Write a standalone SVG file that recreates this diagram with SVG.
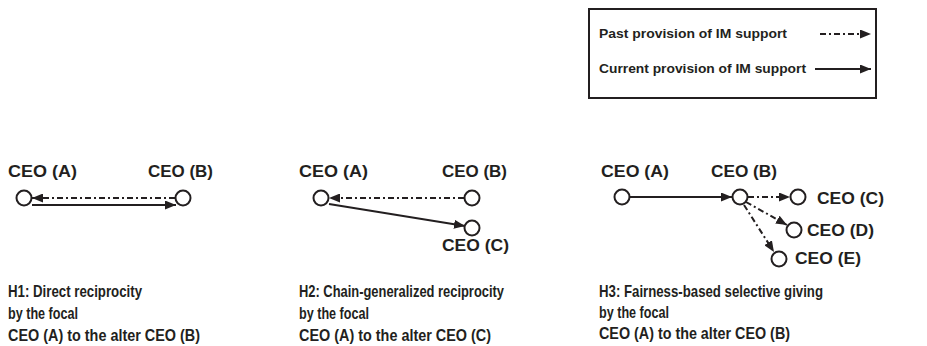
<svg xmlns="http://www.w3.org/2000/svg" width="927" height="346" viewBox="0 0 927 346">
<style>
.lbl{font-family:"Liberation Sans",Arial,sans-serif;font-weight:bold;font-size:17px;fill:#231f20}
.leg{font-family:"Liberation Sans",Arial,sans-serif;font-weight:bold;font-size:13.5px;fill:#231f20}
.cap{font-family:"Liberation Sans Narrow","Liberation Sans",Arial,sans-serif;font-weight:bold;font-size:17px;fill:#231f20}
.node{fill:#fff;stroke:#231f20;stroke-width:2}
.solid{stroke:#231f20;stroke-width:2;fill:none;marker-end:url(#ah)}
.dd{stroke:#231f20;stroke-width:2;fill:none;stroke-dasharray:6 3 2 3;marker-end:url(#ah)}
</style>
<defs>
<marker id="ah" markerUnits="userSpaceOnUse" markerWidth="11" markerHeight="9" refX="11" refY="4.5" orient="auto">
<path d="M0,0 L11,4.5 L0,9 z" fill="#231f20"/>
</marker>
</defs>
<rect width="927" height="346" fill="#fff"/>

<g id="legend">
<rect x="589" y="9" width="287" height="89" fill="#fff" stroke="#231f20" stroke-width="2"/>
<text class="leg" x="599" y="38" textLength="188" lengthAdjust="spacingAndGlyphs">Past provision of IM support</text>
<text class="leg" x="599" y="73" textLength="207" lengthAdjust="spacingAndGlyphs">Current provision of IM support</text>
<line class="dd" x1="820" y1="34" x2="871" y2="34"/>
<line class="solid" x1="815" y1="69" x2="871" y2="69"/>
</g>

<g id="connectors">
<line class="dd" x1="175" y1="198" x2="32" y2="198"/>
<line class="solid" x1="32" y1="205" x2="176" y2="205"/>
<line class="dd" x1="464" y1="198" x2="329" y2="198"/>
<line class="solid" x1="329" y1="204" x2="465" y2="226"/>
<line class="solid" x1="630" y1="197" x2="732" y2="197"/>
<line class="dd" x1="748" y1="197" x2="790" y2="197"/>
<line class="dd" x1="746" y1="202" x2="787" y2="225"/>
<line class="dd" x1="744" y1="205" x2="774" y2="252"/>
</g>

<g id="p1-a"><circle class="node" cx="24" cy="198" r="7.5"/><text class="lbl" x="8" y="177" textLength="69" lengthAdjust="spacingAndGlyphs">CEO (A)</text></g>
<g id="p1-b"><circle class="node" cx="183" cy="198" r="7.5"/><text class="lbl" x="148" y="177" textLength="65" lengthAdjust="spacingAndGlyphs">CEO (B)</text></g>

<g id="p2-a"><circle class="node" cx="321" cy="198" r="7.5"/><text class="lbl" x="299" y="177" textLength="69" lengthAdjust="spacingAndGlyphs">CEO (A)</text></g>
<g id="p2-b"><circle class="node" cx="472" cy="198" r="7.5"/><text class="lbl" x="442" y="177" textLength="65" lengthAdjust="spacingAndGlyphs">CEO (B)</text></g>
<g id="p2-c"><circle class="node" cx="472" cy="228" r="7.5"/><text class="lbl" x="442" y="251" textLength="67" lengthAdjust="spacingAndGlyphs">CEO (C)</text></g>

<g id="p3-a"><circle class="node" cx="622" cy="197" r="7.5"/><text class="lbl" x="601" y="177" textLength="68" lengthAdjust="spacingAndGlyphs">CEO (A)</text></g>
<g id="p3-b"><circle class="node" cx="740" cy="197" r="7.5"/><text class="lbl" x="711" y="177" textLength="66" lengthAdjust="spacingAndGlyphs">CEO (B)</text></g>
<g id="p3-c"><circle class="node" cx="798" cy="197" r="7.5"/><text class="lbl" x="817" y="204" textLength="67" lengthAdjust="spacingAndGlyphs">CEO (C)</text></g>
<g id="p3-d"><circle class="node" cx="794" cy="230" r="7.5"/><text class="lbl" x="807" y="236" textLength="67" lengthAdjust="spacingAndGlyphs">CEO (D)</text></g>
<g id="p3-e"><circle class="node" cx="779" cy="259" r="7.5"/><text class="lbl" x="795" y="264" textLength="66" lengthAdjust="spacingAndGlyphs">CEO (E)</text></g>

<g id="caption-h1">
<text class="cap" x="8" y="297" textLength="134" lengthAdjust="spacingAndGlyphs">H1: Direct reciprocity</text>
<text class="cap" x="8" y="319" textLength="70" lengthAdjust="spacingAndGlyphs">by the focal</text>
<text class="cap" x="8" y="341" textLength="192" lengthAdjust="spacingAndGlyphs">CEO (A) to the alter CEO (B)</text>
</g>
<g id="caption-h2">
<text class="cap" x="299" y="297" textLength="205" lengthAdjust="spacingAndGlyphs">H2: Chain-generalized reciprocity</text>
<text class="cap" x="299" y="319" textLength="70" lengthAdjust="spacingAndGlyphs">by the focal</text>
<text class="cap" x="299" y="341" textLength="192" lengthAdjust="spacingAndGlyphs">CEO (A) to the alter CEO (C)</text>
</g>
<g id="caption-h3">
<text class="cap" x="599" y="297" textLength="224" lengthAdjust="spacingAndGlyphs">H3: Fairness-based selective giving</text>
<text class="cap" x="599" y="318" textLength="70" lengthAdjust="spacingAndGlyphs">by the focal</text>
<text class="cap" x="599" y="339" textLength="191" lengthAdjust="spacingAndGlyphs">CEO (A) to the alter CEO (B)</text>
</g>
</svg>
